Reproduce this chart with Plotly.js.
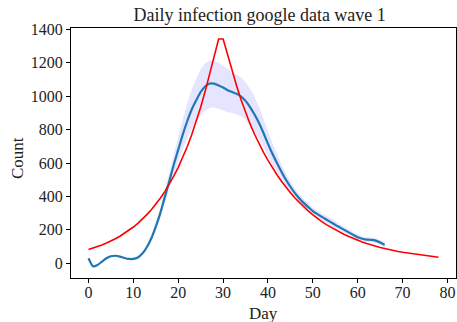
<!DOCTYPE html>
<html>
<head>
<meta charset="utf-8">
<script src="https://cdn.plot.ly/plotly-3.0.1.min.js"></script>
<style>html,body{margin:0;padding:0;background:#fff;}#chart{width:457px;height:322px;}</style>
</head>
<body>
<div id="chart"></div>
<script>
// Observed (smoothed) series, days 0..66
const obsDays = [0,1,2,3,4,5,6,7,8,9,10,11,12,13,14,15,16,17,18,19,20,21,22,23,24,25,26,27,28,29,30,31,32,33,34,35,36,37,38,39,40,41,42,43,44,45,46,47,48,49,50,51,52,53,54,55,56,57,58,59,60,61,62,63,64,65,66];
const obsMean = [30,-18,-10,10,30,42,45,40,32,26,26,35,58,96,150,220,300,396,490,590,680,770,850,920,975,1025,1058,1076,1075,1064,1052,1036,1025,1014,998,972,935,890,840,780,715,655,600,548,500,458,420,388,360,336,312,294,278,262,246,230,215,200,185,170,156,147,142,140,136,125,110];
const obsHigh = [34,-14,-6,14,34,46,49,44,36,30,30,40,65,106,165,242,330,436,540,650,755,860,955,1038,1103,1160,1196,1214,1212,1198,1182,1162,1145,1130,1112,1084,1045,995,935,865,790,720,655,593,538,490,448,413,384,358,334,316,300,284,268,252,233,218,203,188,172,162,157,155,150,139,124];
const obsLow  = [26,-22,-14,6,26,38,41,36,28,22,22,30,51,86,135,198,270,356,440,530,605,680,745,802,847,885,915,930,932,925,915,905,900,892,880,858,825,785,745,695,640,590,545,503,462,426,392,363,336,314,290,272,256,240,224,208,197,182,167,152,140,132,127,125,122,111,96];

// Model curve, days 0..78
const modelDays = [0,1,2,3,4,5,6,7,8,9,10,11,12,13,14,15,16,17,18,19,20,21,22,23,24,25,26,27,28,29,30,31,32,33,34,35,36,37,38,39,40,41,42,43,44,45,46,47,48,49,50,51,52,53,54,55,56,57,58,59,60,61,62,63,64,65,66,67,68,69,70,71,72,73,74,75,76,77,78];
const modelVals = [82,90,100,110,121,133,147,162,179,197,217,239,264,291,320,353,389,429,473,521,574,633,697,769,847,934,1029,1134,1250,1342,1342,1246,1152,1062,978,902,834,772,716,664,616,571,530,491,455,422,391,363,337,312,290,268,249,231,215,200,185,172,160,148,138,128,119,110,103,95,89,82,77,71,66,62,57,53,49,46,42,39,36];

const xTicks = [0,10,20,30,40,50,60,70,80];
const yTicks = [0,200,400,600,800,1000,1200,1400];

const bandX = obsDays.concat(obsDays.slice().reverse());
const bandY = obsHigh.concat(obsLow.slice().reverse());

const font = "'Liberation Serif', 'DejaVu Serif', serif";

const traces = [
  {x: bandX, y: bandY, type: 'scatter', mode: 'lines', fill: 'toself',
   fillcolor: 'rgba(0,0,255,0.1)', line: {width: 0, shape: 'spline', smoothing: 0.6}, hoverinfo: 'skip', showlegend: false},
  {x: obsDays, y: obsMean, type: 'scatter', mode: 'lines',
   line: {color: '#1f77b4', width: 2.2, shape: 'spline', smoothing: 0.6}, showlegend: false},
  {x: modelDays, y: modelVals, type: 'scatter', mode: 'lines',
   line: {color: '#ff0000', width: 1.6}, showlegend: false}
];

const layout = {
  width: 457, height: 322,
  margin: {l: 71, r: 1, t: 28, b: 44},
  paper_bgcolor: '#fff', plot_bgcolor: '#fff',
  font: {family: font, size: 16, color: '#000'},
  title: {text: 'Daily infection google data wave 1', font: {family: font, size: 18, color: '#222'},
          x: 0.49, xref: 'paper', xanchor: 'center', y: 1, yref: 'paper', yanchor: 'bottom', pad: {b: 7}},
  xaxis: {range: [-3.9, 81.9], tickvals: xTicks, ticktext: xTicks.map(String), ticks: 'outside', ticklen: 4,
          tickcolor: '#000', tickwidth: 1, showline: true, linecolor: '#000', linewidth: 1, mirror: true,
          showgrid: false, zeroline: false, tickfont: {family: font, size: 16, color: '#222'},
          ticklabelstandoff: -4, automargin: false},
  yaxis: {range: [-88, 1408], tickvals: yTicks, ticktext: yTicks.map(String), ticks: 'outside', ticklen: 4,
          tickcolor: '#000', tickwidth: 1, showline: true, linecolor: '#000', linewidth: 1, mirror: true,
          showgrid: false, zeroline: false, tickfont: {family: font, size: 16, color: '#222'},
          automargin: false},
  annotations: [
    {text: 'Day', xref: 'paper', yref: 'paper', x: 0.5, y: -0.14, xanchor: 'center', yanchor: 'middle',
     showarrow: false, font: {family: font, size: 17, color: '#222'}},
    {text: 'Count', xref: 'paper', yref: 'paper', x: -0.14, y: 0.48, xanchor: 'center', yanchor: 'middle',
     textangle: -90, showarrow: false, font: {family: font, size: 17, color: '#222'}}
  ]
};

Plotly.newPlot('chart', traces, layout, {staticPlot: true, displayModeBar: false});
</script>
</body>
</html>
